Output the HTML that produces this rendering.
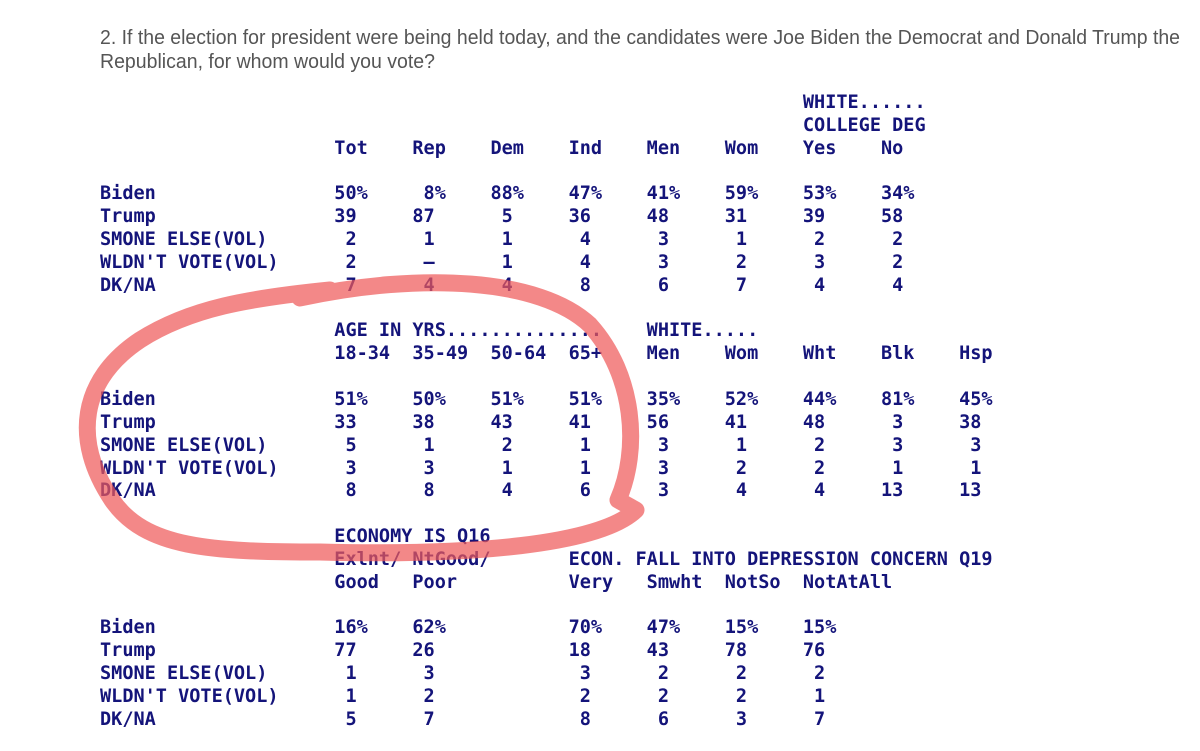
<!DOCTYPE html>
<html><head><meta charset="utf-8"><style>
html,body{margin:0;padding:0;background:#fff;width:1200px;height:751px;overflow:hidden;position:relative}
pre{position:absolute;left:100px;top:92px;margin:0;font-family:"DejaVu Sans Mono","Liberation Mono",monospace;font-weight:bold;font-size:18.55px;line-height:22.85px;color:#14147a;white-space:pre}
svg{position:absolute;left:0;top:0}
</style></head><body>
<svg width="1200" height="751">
<text x="100" y="44" font-family="Liberation Sans, sans-serif" font-size="20" fill="#555" textLength="1080" lengthAdjust="spacingAndGlyphs">2. If the election for president were being held today, and the candidates were Joe Biden the Democrat and Donald Trump the</text>
<text x="100" y="68" font-family="Liberation Sans, sans-serif" font-size="20" fill="#555" textLength="335" lengthAdjust="spacingAndGlyphs">Republican, for whom would you vote?</text>
</svg>
<pre>                                                               WHITE......
                                                               COLLEGE DEG
                     Tot    Rep    Dem    Ind    Men    Wom    Yes    No

Biden                50%     8%    88%    47%    41%    59%    53%    34%
Trump                39     87      5     36     48     31     39     58
SMONE ELSE(VOL)       2      1      1      4      3      1      2      2
WLDN'T VOTE(VOL)      2      –      1      4      3      2      3      2
DK/NA                 7      4      4      8      6      7      4      4

                     AGE IN YRS..............    WHITE.....
                     18-34  35-49  50-64  65+    Men    Wom    Wht    Blk    Hsp

Biden                51%    50%    51%    51%    35%    52%    44%    81%    45%
Trump                33     38     43     41     56     41     48      3     38
SMONE ELSE(VOL)       5      1      2      1      3      1      2      3      3
WLDN'T VOTE(VOL)      3      3      1      1      3      2      2      1      1
DK/NA                 8      8      4      6      3      4      4     13     13

                     ECONOMY IS Q16
                     Exlnt/ NtGood/       ECON. FALL INTO DEPRESSION CONCERN Q19
                     Good   Poor          Very   Smwht  NotSo  NotAtAll

Biden                16%    62%           70%    47%    15%    15%
Trump                77     26            18     43     78     76
SMONE ELSE(VOL)       1      3             3      2      2      2
WLDN'T VOTE(VOL)      1      2             2      2      2      1
DK/NA                 5      7             8      6      3      7</pre>
<svg width="1200" height="751">
<path d="M300 298 C420 272,540 278,590 325 C635 375,640 450,618 500 L636 510 C600 545,470 556,320 552 C210 552,145 548,112 500 C72 440,80 380,140 340 C190 308,250 298,330 290" fill="none" stroke="rgba(238,90,90,0.72)" stroke-width="17" stroke-linecap="round" stroke-linejoin="round"/>
</svg>
</body></html>
